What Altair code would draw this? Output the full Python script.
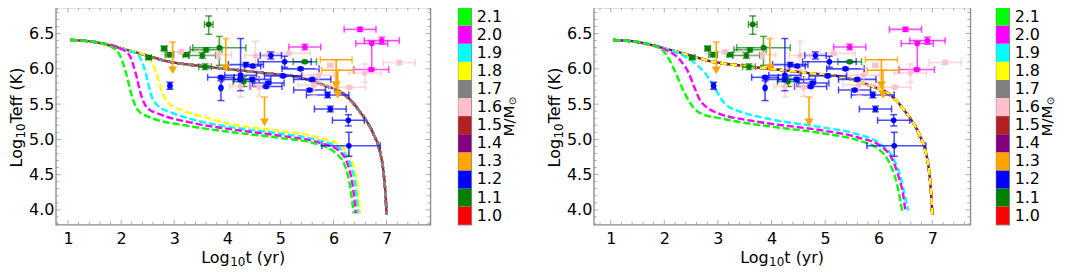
import altair as alt
import numpy as np
import pandas as pd

# ---------------- colour key (mass in solar masses) ----------------
MASS_LABELS = ["1.0", "1.1", "1.2", "1.3", "1.4", "1.5", "1.6", "1.7", "1.8", "1.9", "2.0", "2.1"]
MASS_COLORS = ["#ff0000", "#008000", "#0000ff", "#ffa500", "#800080", "#b22222",
               "#ffc0cb", "#808080", "#ffff00", "#00ffff", "#ff00ff", "#00ff00"]
COLOR_OF = dict(zip(MASS_LABELS, MASS_COLORS))

# ---------------- observed sources ----------------
OBS_MASS = (["1.1"] * 11) + (["1.2"] * 20) + (["1.6"] * 12) + (["2.0"] * 5)
OBS_T = [3.65, 2.81, 2.91, 3.22, 3.60, 3.53, 3.85, 3.58, 2.52, 4.31, 5.46,
         2.92, 3.88, 3.88, 4.35, 4.48, 4.25, 4.25, 4.47, 4.82, 5.08, 5.38, 5.05, 4.77, 4.73, 5.60, 5.55, 5.89, 5.94, 6.28, 6.29,
         3.13, 3.83, 4.53, 5.16, 5.72, 5.63, 5.94, 6.59, 7.24, 6.30, 4.60, 4.25,
         6.50, 6.72, 6.91, 6.71, 5.46]
OBS_TEFF = [6.63, 6.29, 6.20, 6.20, 6.27, 6.19, 6.30, 6.03, 6.16, 5.82, 6.10,
            5.76, 5.73, 5.88, 6.06, 6.04, 5.91, 5.85, 5.85, 6.19, 6.10, 6.00, 5.90, 5.80, 5.75, 5.85, 5.70, 5.63, 5.43, 5.27, 4.91,
            6.24, 6.20, 6.19, 6.22, 5.91, 5.77, 6.05, 5.94, 6.09, 5.74, 5.74, 5.75,
            6.56, 6.36, 6.40, 5.99, 6.31]
OBS_XERR_LO = [0.08, 0.05, 0.08, 0.05, 0.30, 0.25, 0.50, 0.12, 0.05, 0.20, 0.22,
               0.03, 0.02, 0.25, 0.33, 0.15, 0.30, 0.35, 0.35, 0.20, 0.50, 0.35, 0.35, 0.30, 0.30, 0.35, 0.30, 0.40, 0.30, 0.30, 0.51,
               0.35, 0.25, 0.20, 0.40, 0.30, 0.30, 0.05, 0.30, 0.30, 0.30, 0.15, 0.20,
               0.30, 0.30, 0.33, 0.33, 0.30]
OBS_XERR_HI = [0.08, 0.05, 0.08, 0.05, 0.30, 0.25, 0.50, 0.12, 0.05, 0.20, 0.22,
               0.03, 0.02, 0.25, 0.33, 0.15, 0.30, 0.35, 0.35, 0.20, 0.50, 0.35, 0.35, 0.30, 0.30, 0.35, 0.30, 0.40, 0.30, 0.30, 0.59,
               0.35, 0.25, 0.20, 0.40, 0.30, 0.30, 0.05, 0.30, 0.30, 0.30, 0.15, 0.20,
               0.30, 0.30, 0.33, 0.33, 0.30]
OBS_YERR_LO = [0.14, 0.03, 0.03, 0.02, 0.03, 0.04, 0.25, 0.04, 0.02, 0.07, 0.02,
               0.05, 0.18, 0.02, 0.03, 0.02, 0.22, 0.03, 0.03, 0.05, 0.08, 0.02, 0.02, 0.02, 0.02, 0.02, 0.02, 0.04, 0.04, 0.08, 0.15,
               0.03, 0.06, 0.20, 0.03, 0.10, 0.15, 0.02, 0.13, 0.03, 0.02, 0.13, 0.15,
               0.03, 0.37, 0.05, 0.02, 0.04]
OBS_YERR_HI = [0.12, 0.03, 0.03, 0.02, 0.03, 0.04, 0.16, 0.04, 0.02, 0.07, 0.02,
               0.05, 0.10, 0.02, 0.03, 0.02, 0.52, 0.03, 0.03, 0.05, 0.08, 0.02, 0.02, 0.02, 0.02, 0.02, 0.02, 0.04, 0.04, 0.08, 0.19,
               0.03, 0.06, 0.20, 0.03, 0.10, 0.15, 0.02, 0.13, 0.03, 0.02, 0.13, 0.15,
               0.03, 0.03, 0.05, 0.02, 0.04]

# upper limits (1.3 Msun)
UL_T = [2.97, 3.97, 4.70, 6.05, 6.08]
UL_TOP = [6.38, 6.43, 5.60, 6.13, 5.98]
UL_BOTTOM = [5.98, 6.01, 5.24, 5.77, 5.63]
UL_XERR = [0.0, 0.0, 0.0, 0.30, 0.30]

# ---------------- cooling tracks ----------------
HIGH_T = [1.05, 1.5, 2.0, 2.35, 2.85, 3.5, 4.1, 4.7, 5.35, 5.85, 6.2, 6.5, 6.75, 6.88, 6.94, 6.98, 7.0]
HIGH_TEFF = [6.41, 6.38, 6.29, 6.22, 6.11, 6.04, 5.99, 5.94, 5.88, 5.76, 5.64, 5.39, 5.08, 4.81, 4.55, 4.21, 3.93]

L_LIME_T = [1.05, 1.5, 1.8, 1.97, 2.1, 2.2, 2.32, 2.55, 3.2, 4.1, 5.0, 5.7, 6.05, 6.22, 6.32, 6.38]
L_LIME_TEFF = [6.41, 6.38, 6.32, 6.20, 5.92, 5.62, 5.41, 5.31, 5.20, 5.10, 5.02, 4.93, 4.80, 4.62, 4.30, 3.95]
L_MAG_T = [1.05, 1.5, 1.95, 2.15, 2.28, 2.38, 2.5, 2.75, 3.3, 4.1, 5.0, 5.7, 6.1, 6.28, 6.37, 6.42]
L_MAG_TEFF = [6.41, 6.38, 6.30, 6.20, 5.92, 5.62, 5.44, 5.35, 5.24, 5.14, 5.05, 4.96, 4.84, 4.62, 4.30, 3.95]
L_CYAN_T = [1.05, 1.5, 2.0, 2.32, 2.46, 2.57, 2.7, 2.95, 3.4, 4.1, 5.0, 5.7, 6.12, 6.32, 6.42, 6.46]
L_CYAN_TEFF = [6.41, 6.38, 6.29, 6.20, 5.95, 5.62, 5.47, 5.38, 5.27, 5.17, 5.08, 4.99, 4.87, 4.64, 4.30, 3.95]
L_YEL_T = [1.05, 1.5, 2.0, 2.45, 2.65, 2.78, 2.92, 3.2, 3.6, 4.1, 5.0, 5.7, 6.15, 6.36, 6.46, 6.5]
L_YEL_TEFF = [6.41, 6.38, 6.29, 6.20, 5.97, 5.65, 5.50, 5.40, 5.31, 5.21, 5.12, 5.03, 4.90, 4.66, 4.30, 3.95]

R_LIME_T = [1.05, 1.5, 1.8, 2.0, 2.19, 2.34, 2.47, 2.65, 3.1, 4.0, 5.0, 5.6, 6.0, 6.2, 6.33, 6.4, 6.44]
R_LIME_TEFF = [6.41, 6.38, 6.33, 6.24, 5.98, 5.72, 5.53, 5.38, 5.29, 5.18, 5.08, 4.99, 4.86, 4.67, 4.40, 4.15, 3.97]
R_MAG_T = [1.05, 1.5, 2.0, 2.3, 2.45, 2.55, 2.65, 2.8, 3.0, 3.5, 4.0, 5.0, 5.6, 6.05, 6.25, 6.38, 6.46, 6.5]
R_MAG_TEFF = [6.41, 6.38, 6.28, 6.12, 5.95, 5.76, 5.58, 5.45, 5.37, 5.28, 5.22, 5.12, 5.03, 4.90, 4.72, 4.45, 4.20, 3.97]
R_CYAN_T = [1.05, 1.5, 2.0, 2.4, 2.6, 2.75, 2.9, 3.15, 3.52, 4.02, 4.95, 5.57, 6.0, 6.25, 6.4, 6.5, 6.55]
R_CYAN_TEFF = [6.41, 6.38, 6.29, 6.17, 6.06, 5.95, 5.78, 5.49, 5.37, 5.28, 5.17, 5.08, 4.95, 4.76, 4.49, 4.17, 3.99]

# axis titles, split so that the "10" can be drawn as a subscript
X_TITLE_PARTS = ["Log", "10", "t (yr)"]
Y_TITLE_PARTS = ["Log", "10", "Teff (K)"]
CBAR_TITLE_PARTS = ["M/M", "⊙"]

FRAME = "#8a8a8a"
FONT = "DejaVu Sans"
H = 218
Y_DOMAIN = [3.79, 6.87]
X_MAJOR = [1, 2, 3, 4, 5, 6, 7]
Y_MAJOR = [4.0, 4.5, 5.0, 5.5, 6.0, 6.5]


def obs_frame():
    d = pd.DataFrame({"m": OBS_MASS, "t": OBS_T, "teff": OBS_TEFF,
                      "exl": OBS_XERR_LO, "exh": OBS_XERR_HI,
                      "eyl": OBS_YERR_LO, "eyh": OBS_YERR_HI})
    d["c"] = d["m"].map(COLOR_OF)
    d["xlo"] = d["t"] - d["exl"]
    d["xhi"] = d["t"] + d["exh"]
    d["ylo"] = d["teff"] - d["eyl"]
    d["yhi"] = d["teff"] + d["eyh"]
    return d


def label(s, x, y, size, angle=0, align="left", baseline="alphabetic"):
    kw = dict(fontSize=size, align=align, baseline=baseline, color="black")
    if angle:
        kw["angle"] = angle
    return alt.Chart(pd.DataFrame({"s": [s]})).mark_text(**kw).encode(
        text="s:N", x=alt.value(x), y=alt.value(y))


def panel(tracks, width, xdom):
    xs = alt.Scale(domain=xdom, nice=False, zero=False)
    ys = alt.Scale(domain=Y_DOMAIN, nice=False, zero=False)
    xax = alt.Axis(values=X_MAJOR, title=None, ticks=False, domain=False, grid=False,
                   labelPadding=6, labelFontSize=16)
    yax = alt.Axis(values=Y_MAJOR, format=".1f", title=None, ticks=False, domain=False,
                   grid=False, labelPadding=2, labelFontSize=16)

    def X(f):
        return alt.X(f, type="quantitative", scale=xs, axis=xax)

    def Y(f):
        return alt.Y(f, type="quantitative", scale=ys, axis=yax)

    layers = []
    for (m, ts, tes, off) in tracks:
        df = pd.DataFrame({"t": ts, "teff": tes})
        layers.append(alt.Chart(df).mark_line(color=COLOR_OF[m], strokeWidth=2.4, strokeDash=[7, 3],
                                              strokeDashOffset=off, interpolate="monotone")
                      .encode(x=X("t"), y=Y("teff")))

    d = obs_frame()
    col = alt.Color("c:N", scale=None, legend=None)
    base = alt.Chart(d)
    layers.append(base.mark_rule(strokeWidth=1.6, opacity=0.7).encode(x=X("xlo"), x2="xhi", y=Y("teff"), color=col))
    layers.append(base.mark_rule(strokeWidth=1.6, opacity=0.7).encode(x=X("t"), y=Y("ylo"), y2="yhi", color=col))
    for f in ["xlo", "xhi"]:
        layers.append(base.mark_tick(orient="vertical", size=7, thickness=1.5, opacity=0.7)
                      .encode(x=X(f), y=Y("teff"), color=col))
    for f in ["ylo", "yhi"]:
        layers.append(base.mark_tick(orient="horizontal", size=7, thickness=1.5, opacity=0.7)
                      .encode(x=X("t"), y=Y(f), color=col))
    layers.append(base.mark_circle(size=32, opacity=1).encode(x=X("t"), y=Y("teff"), color=col))

    u = pd.DataFrame({"t": UL_T, "top": UL_TOP, "bot": UL_BOTTOM, "xe": UL_XERR})
    u["xlo"] = u["t"] - u["xe"]
    u["xhi"] = u["t"] + u["xe"]
    ub = alt.Chart(u)
    oc = COLOR_OF["1.3"]
    layers.append(ub.mark_rule(color=oc, strokeWidth=1.6).encode(x=X("t"), y=Y("top"), y2="bot"))
    layers.append(ub.mark_tick(color=oc, orient="horizontal", size=7, thickness=1.6).encode(x=X("t"), y=Y("top")))
    ux = alt.Chart(u[u["xe"] > 0])
    layers.append(ux.mark_rule(color=oc, strokeWidth=1.6).encode(x=X("xlo"), x2="xhi", y=Y("top")))
    for f in ["xlo", "xhi"]:
        layers.append(ux.mark_tick(color=oc, orient="vertical", size=7, thickness=1.6).encode(x=X(f), y=Y("top")))
    layers.append(ub.mark_point(shape="triangle-down", filled=True, size=80, color=oc, opacity=1)
                  .encode(x=X("t"), y=Y("bot")))

    # inward frame ticks
    xmin = [v for v in np.round(np.arange(0.8, 7.81, 0.2), 1)
            if abs(v - round(v)) > 1e-6 and xdom[0] < v < xdom[1]]
    ymin = [v for v in np.round(np.arange(3.8, 6.86, 0.1), 1) if abs(v * 2 - round(v * 2)) > 1e-6]
    for vals, L in [(X_MAJOR, 5), (xmin, 3)]:
        tdf = pd.DataFrame({"v": vals})
        for yv in [H - L / 2, L / 2]:
            layers.append(alt.Chart(tdf).mark_tick(orient="vertical", size=L, thickness=1, color=FRAME)
                          .encode(x=X("v"), y=alt.value(yv)))
    for vals, L in [(Y_MAJOR, 5), (ymin, 3)]:
        tdf = pd.DataFrame({"v": vals})
        for xv in [L / 2, width - L / 2]:
            layers.append(alt.Chart(tdf).mark_tick(orient="horizontal", size=L, thickness=1, color=FRAME)
                          .encode(y=Y("v"), x=alt.value(xv)))

    # axis titles with a real subscript
    x0 = width / 2 - 42
    layers.append(label(X_TITLE_PARTS[0], x0, H + 38, 16))
    layers.append(label(X_TITLE_PARTS[1], x0 + 29, H + 41, 12))
    layers.append(label(X_TITLE_PARTS[2], x0 + 44.3, H + 38, 16))
    y0 = H / 2 + 51.5
    layers.append(label(Y_TITLE_PARTS[0], -34, y0, 16, angle=270))
    layers.append(label(Y_TITLE_PARTS[1], -31, y0 - 29, 12, angle=270))
    layers.append(label(Y_TITLE_PARTS[2], -34, y0 - 44.3, 16, angle=270))

    return alt.layer(*layers).properties(width=width, height=H)


def colorbar():
    cdf = pd.DataFrame({"m": MASS_LABELS, "c": MASS_COLORS})
    rect = alt.Chart(cdf).mark_rect().encode(
        y=alt.Y("m:N", sort=MASS_LABELS[::-1], scale=alt.Scale(paddingInner=0, paddingOuter=0),
                axis=alt.Axis(orient="right", title=None, ticks=False, domain=False, labelFontSize=16,
                              labelPadding=5)),
        color=alt.Color("c:N", scale=None, legend=None))
    t1 = label(CBAR_TITLE_PARTS[0], 51, H / 2 + 5, 15, angle=270, align="center", baseline="middle")
    t2 = label(CBAR_TITLE_PARTS[1], 55, H / 2 - 15, 10, angle=270, align="center", baseline="middle")
    return alt.layer(rect, t1, t2).properties(width=13, height=H)


LEFT_TRACKS = [("1.0", HIGH_T, HIGH_TEFF, 0), ("1.1", HIGH_T, HIGH_TEFF, 0), ("1.2", HIGH_T, HIGH_TEFF, 0),
               ("1.3", HIGH_T, HIGH_TEFF, 0), ("1.4", HIGH_T, HIGH_TEFF, 0), ("1.6", HIGH_T, HIGH_TEFF, 0),
               ("1.5", HIGH_T, HIGH_TEFF, 5), ("1.7", HIGH_T, HIGH_TEFF, 0),
               ("1.8", L_YEL_T, L_YEL_TEFF, 0), ("1.9", L_CYAN_T, L_CYAN_TEFF, 0),
               ("2.0", L_MAG_T, L_MAG_TEFF, 0), ("2.1", L_LIME_T, L_LIME_TEFF, 0)]
RIGHT_TRACKS = [("1.0", HIGH_T, HIGH_TEFF, 0), ("1.1", HIGH_T, HIGH_TEFF, 0), ("1.2", HIGH_T, HIGH_TEFF, 0),
                ("1.3", HIGH_T, HIGH_TEFF, 0), ("1.6", HIGH_T, HIGH_TEFF, 0), ("1.7", HIGH_T, HIGH_TEFF, 0),
                ("1.5", HIGH_T, HIGH_TEFF, 0), ("1.4", HIGH_T, HIGH_TEFF, 5), ("1.8", HIGH_T, HIGH_TEFF, 0),
                ("1.9", R_CYAN_T, R_CYAN_TEFF, 0), ("2.0", R_MAG_T, R_MAG_TEFF, 0),
                ("2.1", R_LIME_T, R_LIME_TEFF, 0)]

left = alt.hconcat(panel(LEFT_TRACKS, 376, [0.77, 7.825]), colorbar(), spacing=26)
right = alt.hconcat(panel(RIGHT_TRACKS, 378, [0.684, 7.71]), colorbar(), spacing=24)

chart = (alt.hconcat(left, right, spacing=27)
         .properties(padding={"left": 0, "top": -2, "right": 0, "bottom": 0})
         .configure(font=FONT)
         .configure_view(stroke=FRAME, strokeWidth=1.3)
         .configure_axis(labelColor="black", labelFont=FONT)
         .configure_text(font=FONT))

chart.save("out.html", embed_options={"renderer": "svg", "actions": False})
